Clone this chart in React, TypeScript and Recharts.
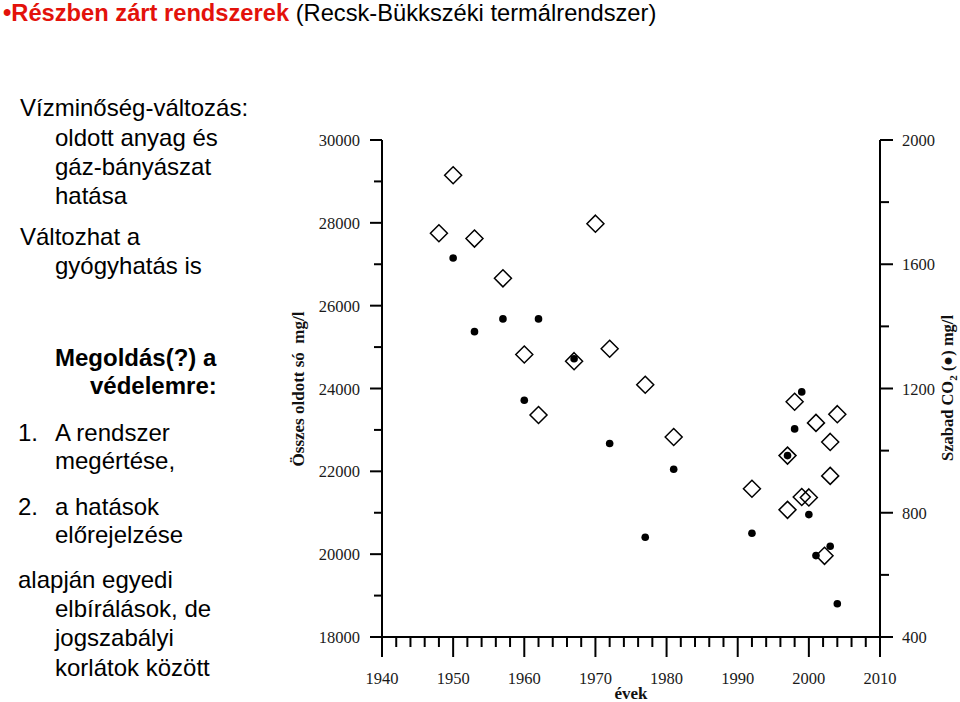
import React from 'react';
import { ScatterChart, Scatter, XAxis, YAxis } from 'recharts';

// Összes oldott só (mg/l) – open diamonds, left axis
const saltYears = [1948, 1950, 1953, 1957, 1960, 1962, 1967, 1970, 1972, 1977, 1981, 1992, 1997, 1997, 1998, 1999, 2000, 2001, 2002.2, 2003, 2003, 2004];
const saltValues = [27750, 29150, 27620, 26660, 24820, 23360, 24660, 27980, 24960, 24090, 22830, 21580, 22380, 21070, 23680, 21380, 21370, 23170, 19960, 22710, 21890, 23380];

// Szabad CO2 (mg/l) – filled dots, right axis
const co2Years = [1950, 1953, 1957, 1960, 1962, 1967, 1972, 1977, 1981, 1992, 1997, 1998, 1999, 2000, 2001, 2003, 2004];
const co2Values = [1620, 1383, 1424, 1162, 1424, 1296, 1023, 721, 940, 734, 984, 1070, 1189, 794, 662, 692, 507];

// ticks
const yearTicks = [1940, 1942, 1944, 1946, 1948, 1950, 1952, 1954, 1956, 1958, 1960, 1962, 1964, 1966, 1968, 1970, 1972, 1974, 1976, 1978, 1980, 1982, 1984, 1986, 1988, 1990, 1992, 1994, 1996, 1998, 2000, 2002, 2004, 2006, 2008, 2010];
const yearLabels = [1940, 1950, 1960, 1970, 1980, 1990, 2000, 2010];
const saltTicks = [18000, 19000, 20000, 21000, 22000, 23000, 24000, 25000, 26000, 27000, 28000, 29000, 30000];
const saltLabels = [18000, 20000, 22000, 24000, 26000, 28000, 30000];
const co2Ticks = [400, 600, 800, 1000, 1200, 1400, 1600, 1800, 2000];
const co2Labels = [400, 800, 1200, 1600, 2000];

const saltData = saltYears.map((year, i) => ({ year, value: saltValues[i] }));
const co2Data = co2Years.map((year, i) => ({ year, value: co2Values[i] }));

const SERIF = '"Liberation Serif", "Times New Roman", serif';
const SANS = '"Liberation Sans", Arial, sans-serif';
const TICK_COLOR = '#1a1a1a';
const TICK_FONT = 16.5;

const LeftTick = (props: any) => {
  const { x, y, payload } = props;
  const major = saltLabels.includes(payload.value);
  return (
    <g>
      <line x1={x - (major ? 12 : 8)} x2={x} y1={y} y2={y} stroke="#000" strokeWidth={2} />
      {major && (
        <text x={x - 22} y={y + 6} textAnchor="end" fontFamily={SERIF} fontSize={TICK_FONT} fill={TICK_COLOR}>
          {payload.value}
        </text>
      )}
    </g>
  );
};

const RightTick = (props: any) => {
  const { x, y, payload } = props;
  const major = co2Labels.includes(payload.value);
  return (
    <g>
      <line x1={x} x2={x + (major ? 13 : 9)} y1={y} y2={y} stroke="#000" strokeWidth={2} />
      {major && (
        <text x={x + 22} y={y + 6} textAnchor="start" fontFamily={SERIF} fontSize={TICK_FONT} fill={TICK_COLOR}>
          {payload.value}
        </text>
      )}
    </g>
  );
};

const BottomTick = (props: any) => {
  const { x, y, payload } = props;
  const major = yearLabels.includes(payload.value);
  return (
    <g>
      <line x1={x} x2={x} y1={y} y2={y + (major ? 20 : 10)} stroke="#000" strokeWidth={2} />
      {major && (
        <text x={x} y={y + 47} textAnchor="middle" fontFamily={SERIF} fontSize={TICK_FONT} fill={TICK_COLOR}>
          {payload.value}
        </text>
      )}
    </g>
  );
};

const Diamond = (props: any) => {
  const { cx, cy } = props;
  const r = 8.5;
  return (
    <polygon
      points={`${cx},${cy - r} ${cx + r},${cy} ${cx},${cy + r} ${cx - r},${cy}`}
      fill="none"
      stroke="#000"
      strokeWidth={1.5}
    />
  );
};

const Dot = (props: any) => <circle cx={props.cx} cy={props.cy} r={3.8} fill="#000" />;

const leftLines: { text: string; x: number; y: number; bold?: boolean }[] = [
  { text: 'Vízminőség-változás:', x: 20, y: 116 },
  { text: 'oldott anyag és', x: 55, y: 146 },
  { text: 'gáz-bányászat', x: 55, y: 175 },
  { text: 'hatása', x: 55, y: 204 },
  { text: 'Változhat a', x: 20, y: 245 },
  { text: 'gyógyhatás is', x: 55, y: 274 },
  { text: 'Megoldás(?) a', x: 55, y: 366, bold: true },
  { text: 'védelemre:', x: 90, y: 394, bold: true },
  { text: '1.', x: 18, y: 441 },
  { text: 'A rendszer', x: 55, y: 441 },
  { text: 'megértése,', x: 55, y: 469 },
  { text: '2.', x: 18, y: 515 },
  { text: 'a hatások', x: 55, y: 515 },
  { text: 'előrejelzése', x: 55, y: 543 },
  { text: 'alapján egyedi', x: 18, y: 588 },
  { text: 'elbírálások, de', x: 55, y: 617 },
  { text: 'jogszabályi', x: 55, y: 646 },
  { text: 'korlátok között', x: 55, y: 676 },
];

export default function App() {
  return (
    <div style={{ position: 'absolute', left: 0, top: 0, width: 960, height: 702, background: '#fff' }}>
      <ScatterChart width={960} height={702} margin={{ top: 140, right: 20, bottom: 25, left: 322 }}>
        <XAxis
          dataKey="year"
          type="number"
          domain={[1940, 2010]}
          ticks={yearTicks}
          interval={0}
          height={40}
          tickSize={0}
          tickMargin={0}
          tickLine={false}
          tick={<BottomTick />}
          axisLine={{ stroke: '#000', strokeWidth: 2 }}
          label={{
            content: () => (
              <text x={631} y={699} textAnchor="middle" fontFamily={SERIF} fontWeight="bold" fontSize={17} fill="#111">
                évek
              </text>
            ),
          }}
        />
        <YAxis
          yAxisId="salt"
          dataKey="value"
          type="number"
          orientation="left"
          domain={[18000, 30000]}
          ticks={saltTicks}
          interval={0}
          width={60}
          tickSize={0}
          tickMargin={0}
          tickLine={false}
          tick={<LeftTick />}
          axisLine={{ stroke: '#000', strokeWidth: 2 }}
          label={{
            content: () => (
              <text
                transform="translate(304, 389) rotate(-90)"
                textAnchor="middle"
                fontFamily={SERIF}
                fontWeight="bold"
                fontSize={17}
                fill="#111"
                style={{ whiteSpace: 'pre' }}
              >
                {'Összes oldott só  mg/l'}
              </text>
            ),
          }}
        />
        <YAxis
          yAxisId="co2"
          dataKey="value"
          type="number"
          orientation="right"
          domain={[400, 2000]}
          ticks={co2Ticks}
          interval={0}
          width={60}
          tickSize={0}
          tickMargin={0}
          tickLine={false}
          tick={<RightTick />}
          axisLine={{ stroke: '#000', strokeWidth: 2 }}
          label={{
            content: () => (
              <text
                transform="translate(953, 388) rotate(-90)"
                textAnchor="middle"
                fontFamily={SERIF}
                fontWeight="bold"
                fontSize={16.5}
                fill="#111"
              >
                Szabad CO<tspan fontSize={11} dy={4}>2</tspan>
                <tspan dy={-4}> (●) mg/l</tspan>
              </text>
            ),
          }}
        />
        <Scatter yAxisId="salt" data={saltData} shape={<Diamond />} isAnimationActive={false} />
        <Scatter yAxisId="co2" data={co2Data} shape={<Dot />} isAnimationActive={false} />
      </ScatterChart>
      <svg width={960} height={702} style={{ position: 'absolute', left: 0, top: 0, pointerEvents: 'none' }}>
        <text x={3} y={21} fontFamily={SANS} fontSize={23.7}>
          <tspan fill="#e3120b" fontWeight="bold">•Részben zárt rendszerek</tspan>
          <tspan fill="#000"> (Recsk-Bükkszéki termálrendszer)</tspan>
        </text>
        {leftLines.map((l, i) => (
          <text key={i} x={l.x} y={l.y} fontFamily={SANS} fontSize={24} fontWeight={l.bold ? 'bold' : 'normal'} fill="#000">
            {l.text}
          </text>
        ))}
      </svg>
    </div>
  );
}
